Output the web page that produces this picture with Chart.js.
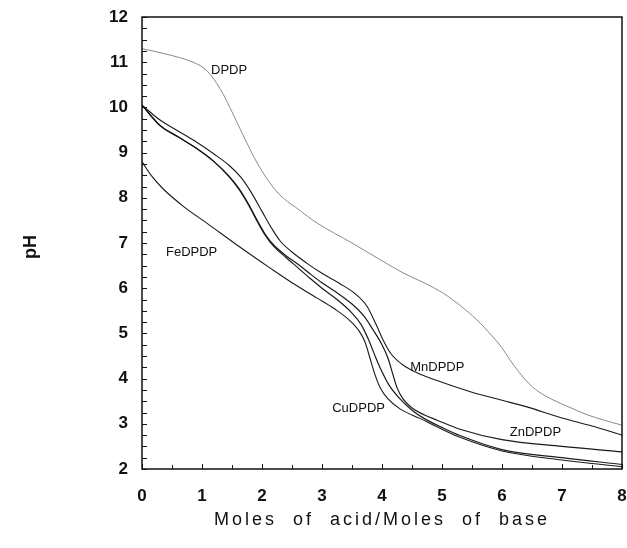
<!DOCTYPE html>
<html>
<head>
<meta charset="utf-8">
<script src="https://cdn.jsdelivr.net/npm/chart.js@4.4.1/dist/chart.umd.min.js"></script>
<style>
  html, body { margin: 0; padding: 0; background: #fff; }
  #wrap { width: 627px; height: 548px; }
</style>
</head>
<body>
<div id="wrap"><canvas id="chart" width="627" height="548"></canvas></div>
<script>
// titration curves, pH vs moles acid / moles base
const dpdpX = [0, 0.4, 0.85, 1.05, 1.2, 1.35, 1.5, 1.68, 1.92, 2.25, 2.6, 2.92, 3.5, 3.92, 4.35, 4.7, 5.02, 5.3, 5.58, 5.85, 6.0, 6.13, 6.28, 6.42, 6.6, 6.85, 7.1, 7.42, 7.7, 8]
const dpdpY = [11.3, 11.18, 11.0, 10.85, 10.62, 10.3, 9.9, 9.4, 8.77, 8.13, 7.75, 7.44, 7.0, 6.67, 6.34, 6.12, 5.89, 5.62, 5.3, 4.92, 4.68, 4.42, 4.15, 3.93, 3.72, 3.53, 3.38, 3.2, 3.08, 2.97]

const mnX = [0, 0.3, 0.6, 0.9, 1.2, 1.45, 1.65, 1.82, 2.0, 2.15, 2.3, 2.5, 2.75, 3.0, 3.3, 3.55, 3.75, 3.9, 4.02, 4.15, 4.35, 4.6, 5.0, 5.5, 6.0, 6.4, 7.0, 7.5, 8]
const mnY = [10.05, 9.72, 9.48, 9.24, 8.97, 8.72, 8.45, 8.12, 7.7, 7.35, 7.05, 6.8, 6.55, 6.33, 6.1, 5.88, 5.6, 5.2, 4.85, 4.55, 4.3, 4.12, 3.92, 3.7, 3.52, 3.38, 3.13, 2.95, 2.75]

const znX = [0, 0.3, 0.6, 0.9, 1.2, 1.45, 1.62, 1.78, 1.92, 2.05, 2.2, 2.4, 2.6, 2.8, 3.0, 3.25, 3.5, 3.7, 3.85, 4.0, 4.1, 4.18, 4.25, 4.35, 4.5, 4.7, 4.92, 5.3, 6.0, 7.0, 8]
const znY = [10.05, 9.6, 9.35, 9.1, 8.8, 8.48, 8.2, 7.85, 7.5, 7.2, 6.95, 6.72, 6.53, 6.32, 6.12, 5.9, 5.65, 5.38, 5.08, 4.75, 4.45, 4.1, 3.8, 3.55, 3.35, 3.2, 3.08, 2.88, 2.65, 2.5, 2.38]

const cuX = [0, 0.3, 0.6, 0.9, 1.2, 1.45, 1.62, 1.78, 1.92, 2.05, 2.2, 2.4, 2.6, 2.8, 3.0, 3.25, 3.5, 3.65, 3.78, 3.9, 4.0, 4.12, 4.3, 4.5, 4.7, 5.0, 5.3, 6.0, 7.0, 8]
const cuY = [10.05, 9.6, 9.35, 9.1, 8.8, 8.47, 8.18, 7.83, 7.48, 7.18, 6.92, 6.68, 6.45, 6.22, 6.0, 5.75, 5.45, 5.2, 4.85, 4.45, 4.15, 3.85, 3.55, 3.3, 3.12, 2.92, 2.74, 2.43, 2.25, 2.1]

const feX = [0, 0.15, 0.35, 0.7, 1.08, 1.63, 2.13, 2.5, 2.92, 3.2, 3.45, 3.62, 3.72, 3.8, 3.88, 3.97, 4.1, 4.3, 4.63, 5.0, 5.3, 6.0, 7.0, 8]
const feY = [8.8, 8.5, 8.2, 7.8, 7.44, 6.91, 6.45, 6.12, 5.78, 5.55, 5.3, 5.05, 4.8, 4.45, 4.1, 3.8, 3.55, 3.33, 3.12, 2.88, 2.7, 2.4, 2.2, 2.05]

// curve labels (data coordinates, left edge / middle of text)
const labelText = ['DPDP', 'FeDPDP', 'MnDPDP', 'CuDPDP', 'ZnDPDP']
const labelX = [1.15, 0.4, 4.47, 3.17, 6.13]
const labelY = [10.82, 6.79, 4.24, 3.35, 2.8]

const xTicks = [0, 1, 2, 3, 4, 5, 6, 7, 8]
const yTicks = [2, 3, 4, 5, 6, 7, 8, 9, 10, 11, 12]

function pts(xs, ys) {
  return xs.map((x, i) => ({ x: x, y: ys[i] }))
}

function curve(label, xs, ys, color, width) {
  return {
    label: label,
    data: pts(xs, ys),
    showLine: true,
    borderColor: color,
    borderWidth: width,
    pointRadius: 0,
    cubicInterpolationMode: 'monotone',
    fill: false
  }
}

const frame = {
  id: 'frame',
  afterDraw(chart) {
    const ctx = chart.ctx
    const a = chart.chartArea
    const xs = chart.scales.x
    const ys = chart.scales.y
    ctx.save()
    ctx.strokeStyle = '#111'
    ctx.lineWidth = 1.5
    ctx.strokeRect(a.left, a.top, a.right - a.left, a.bottom - a.top)

    // inward ticks
    ctx.lineWidth = 1
    ctx.beginPath()
    for (let v = 2; v <= 12.001; v += 0.25) {
      const py = Math.round(ys.getPixelForValue(v)) + 0.5
      ctx.moveTo(a.left, py)
      ctx.lineTo(a.left + 5, py)
    }
    for (let v = 0; v <= 8.001; v += 0.5) {
      const px = Math.round(xs.getPixelForValue(v)) + 0.5
      const len = Number.isInteger(v) ? 5 : 4
      ctx.moveTo(px, a.bottom)
      ctx.lineTo(px, a.bottom - len)
    }
    ctx.stroke()

    // curve labels
    ctx.fillStyle = '#111'
    ctx.font = '13px "Liberation Sans", Arial, sans-serif'
    ctx.textAlign = 'left'
    ctx.textBaseline = 'middle'
    labelText.forEach((t, i) => {
      ctx.fillText(t, xs.getPixelForValue(labelX[i]), ys.getPixelForValue(labelY[i]))
    })

    // axis titles
    ctx.font = '18px "Liberation Sans", Arial, sans-serif'
    ctx.textAlign = 'center'
    ctx.letterSpacing = '3px'
    ctx.fillText('Moles  of  acid/Moles  of  base', (a.left + a.right) / 2, 520)
    ctx.letterSpacing = '0px'

    ctx.translate(31, (a.top + a.bottom) / 2 + 4)
    ctx.rotate(-Math.PI / 2)
    ctx.font = 'bold 18px "Liberation Sans", Arial, sans-serif'
    ctx.fillText('pH', 0, 0)
    ctx.restore()
  }
}

new Chart(document.getElementById('chart'), {
  type: 'scatter',
  data: {
    datasets: [
      curve('DPDP', dpdpX, dpdpY, '#8a8a8a', 1),
      curve('MnDPDP', mnX, mnY, '#1a1a1a', 1.1),
      curve('ZnDPDP', znX, znY, '#1a1a1a', 1.2),
      curve('CuDPDP', cuX, cuY, '#1a1a1a', 1.2),
      curve('FeDPDP', feX, feY, '#1a1a1a', 1.1)
    ]
  },
  options: {
    responsive: false,
    animation: false,
    layout: { padding: { top: 17, right: 5, left: 0, bottom: 0 } },
    plugins: {
      legend: { display: false },
      tooltip: { enabled: false }
    },
    scales: {
      x: {
        type: 'linear',
        min: 0,
        max: 8,
        afterFit: s => { s.height = 79; s.paddingLeft = 0; s.paddingRight = 0 },
        afterBuildTicks: s => { s.ticks = xTicks.map(v => ({ value: v })) },
        grid: { display: false, drawTicks: false },
        border: { display: false },
        ticks: {
          padding: 17,
          color: '#111',
          maxRotation: 0,
          font: { family: '"Liberation Sans", Arial, sans-serif', size: 17, weight: 'bold' }
        }
      },
      y: {
        type: 'linear',
        min: 2,
        max: 12,
        afterFit: s => { s.width = 142; s.paddingTop = 0; s.paddingBottom = 0 },
        afterBuildTicks: s => { s.ticks = yTicks.map(v => ({ value: v })) },
        grid: { display: false, drawTicks: false },
        border: { display: false },
        ticks: {
          padding: 14,
          color: '#111',
          font: { family: '"Liberation Sans", Arial, sans-serif', size: 17, weight: 'bold' }
        }
      }
    }
  },
  plugins: [frame]
})
</script>
</body>
</html>
